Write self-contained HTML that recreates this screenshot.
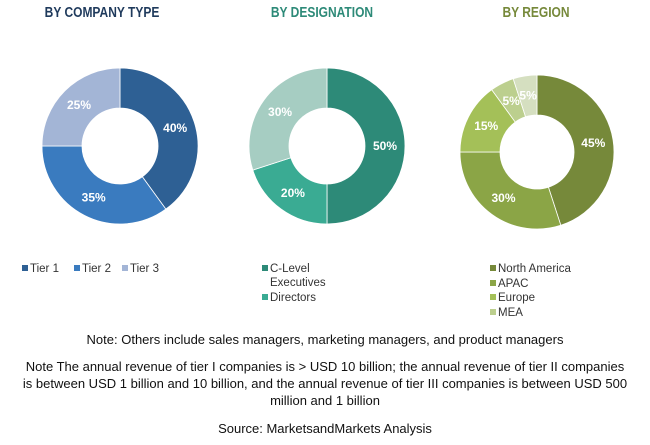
<!DOCTYPE html>
<html><head><meta charset="utf-8"><style>
body{margin:0;background:#fff;width:650px;height:445px;overflow:hidden;font-family:"Liberation Sans",sans-serif;}
svg text{font-family:"Liberation Sans",sans-serif;}
.note{position:absolute;left:0;width:650px;text-align:center;font-size:13px;color:#111;line-height:17px;}
</style></head><body>
<svg id="c" width="650" height="320" style="position:absolute;left:0;top:0"></svg>
<div class="note" style="top:331px">Note: Others include sales managers, marketing managers, and product managers</div>
<div class="note" style="top:358px">Note The annual revenue of tier I companies is &gt; USD 10 billion; the annual revenue of tier II companies<br>is between USD 1 billion and 10 billion, and the annual revenue of tier III companies is between USD 500<br>million and 1 billion</div>
<div class="note" style="top:420px">Source: MarketsandMarkets Analysis</div>
<script>
const companyLabels=["Tier 1","Tier 2","Tier 3"];
const companyValues=[40,35,25];
const designationLabels=["C-Level Executives","Directors","Others"];
const designationValues=[50,20,30];
const regionLabels=["North America","APAC","Europe","MEA","Others"];
const regionValues=[45,30,15,5,5];
const NS="http://www.w3.org/2000/svg";
const svg=document.getElementById('c');
function mk(t,a){const e=document.createElementNS(NS,t);for(const k in a)e.setAttribute(k,a[k]);svg.appendChild(e);return e;}
function donut(name,labels,vals,colors,cx,cy,R,r,title,tcolor,tx){
  const t=mk('text',{x:tx,y:17,'text-anchor':'middle','font-size':15,'font-weight':'bold',fill:tcolor,transform:`translate(${tx},0) scale(0.8,1) translate(${-tx},0)`});
  t.textContent=title;
  
  
  const tot=vals.reduce((a,b)=>a+b,0);let a0=0;
  vals.forEach((v,i)=>{
    const a1=a0+v/tot*2*Math.PI;
    const p=(a,rr)=>[cx+rr*Math.sin(a),cy-rr*Math.cos(a)];
    const [x1,y1]=p(a0,R),[x2,y2]=p(a1,R),[x3,y3]=p(a1,r),[x4,y4]=p(a0,r);
    const lg=(a1-a0)>Math.PI?1:0;
    const path=mk('path',{d:`M${x1},${y1}A${R},${R} 0 ${lg} 1 ${x2},${y2}L${x3},${y3}A${r},${r} 0 ${lg} 0 ${x4},${y4}Z`,fill:colors[i],stroke:'#fff','stroke-width':0.8});
    
    
    const [lx,ly]=p((a0+a1)/2,(R+r)/2);
    const tx2=mk('text',{x:lx,y:ly+4,'text-anchor':'middle','font-size':12,'font-weight':'bold',fill:'#fff'});
    tx2.textContent=v+'%';
    
    
    a0=a1;
  });
}
donut('company',companyLabels,companyValues,['#2e6094','#3a7bbf','#a3b5d6'],120,146,78,38,'BY COMPANY TYPE','#1f3a5c',102);
donut('designation',designationLabels,designationValues,['#2d8a78','#3aab93','#a6cdc2'],327,146,78,38,'BY DESIGNATION','#2d8a78',322);
donut('region',regionLabels,regionValues,['#76893a','#8ba546','#a4c058','#bccf8e','#d5dfc0'],537,152,77,37,'BY REGION','#76893a',536);
function leg(name,x,y,color,text){
  const r=mk('rect',{x:x,y:y-7,width:6,height:6,fill:color});
  
  
  const t=mk('text',{x:x+8,y:y,'font-size':11.5,fill:'#333'});t.textContent=text;
  
  
}
leg('legend-tier-1',22,272,'#2e6094','Tier 1');
leg('legend-tier-2',74,272,'#3a7bbf','Tier 2');
leg('legend-tier-3',122,272,'#a3b5d6','Tier 3');
leg('legend-c-level',262,272,'#2d8a78','C-Level');
const ex=mk('text',{x:270,y:286,'font-size':11.5,fill:'#333'});ex.textContent='Executives';


leg('legend-directors',262,301,'#3aab93','Directors');
leg('legend-north-america',490,272,'#76893a','North America');
leg('legend-apac',490,287,'#8ba546','APAC');
leg('legend-europe',490,301,'#a4c058','Europe');
leg('legend-mea',490,316,'#bccf8e','MEA');
</script>
</body></html>
